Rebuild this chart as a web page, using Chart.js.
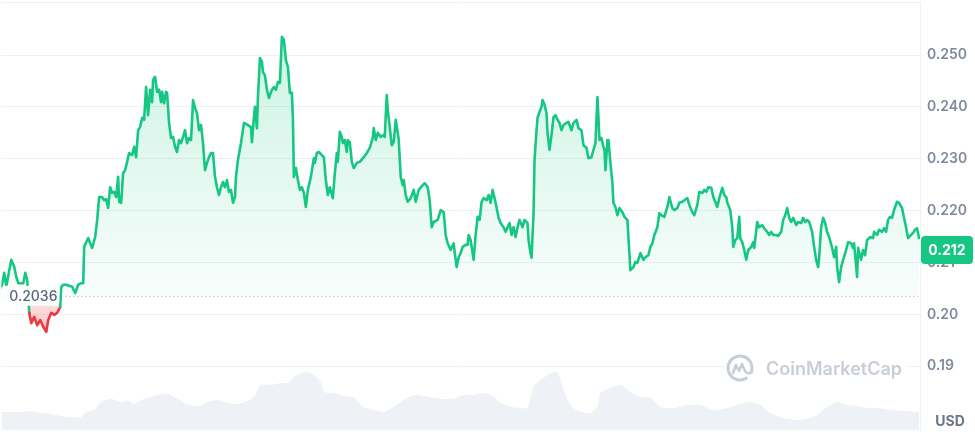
<!DOCTYPE html>
<html><head><meta charset="utf-8">
<script src="https://cdn.jsdelivr.net/npm/chart.js@4"></script>
<style>html,body{margin:0;padding:0;background:#fff;overflow:hidden}</style>
</head><body>
<canvas id="c" width="975" height="434"></canvas>
<script>
// ---- DATA ----
// minutes since start of the 7-day window
const timeMin = [
0,33,55,88,110,143,165,187,220,242,
264,286,308,330,363,396,429,462,495,517,
550,583,616,649,660,682,715,748,781,814,
847,880,902,913,935,957,979,1001,1034,1056,
1078,1111,1133,1155,1177,1199,1221,1243,1265,1287,
1298,1320,1342,1364,1386,1408,1441,1463,1485,1507,
1529,1551,1573,1595,1617,1639,1661,1672,1694,1716,
1738,1760,1771,1793,1815,1826,1848,1870,1892,1914,
1936,1958,1980,2002,2024,2046,2068,2090,2112,2134,
2156,2178,2200,2222,2244,2266,2288,2310,2332,2354,
2376,2398,2420,2442,2464,2486,2508,2530,2552,2574,
2585,2607,2640,2673,2717,2750,2761,2783,2794,2816,
2827,2849,2871,2882,2904,2926,2948,2959,2981,3003,
3025,3047,3069,3091,3113,3135,3157,3179,3201,3212,
3223,3245,3267,3289,3311,3333,3355,3377,3410,3443,
3454,3476,3498,3531,3553,3575,3597,3619,3652,3674,
3696,3707,3729,3751,3762,3784,3806,3817,3839,3861,
3883,3916,3949,3993,4026,4059,4092,4103,4125,4147,
4180,4213,4224,4246,4257,4279,4301,4323,4345,4367,
4378,4400,4422,4433,4455,4477,4510,4543,4565,4598,
4642,4664,4697,4719,4741,4763,4807,4840,4873,4895,
4917,4950,4983,4994,5016,5038,5060,5082,5115,5137,
5148,5170,5203,5225,5247,5269,5291,5313,5346,5368,
5390,5412,5445,5478,5500,5533,5555,5577,5599,5621,
5643,5665,5687,5709,5742,5764,5797,5808,5830,5841,
5863,5874,5896,5907,5929,5951,5962,5984,6006,6017,
6039,6061,6083,6105,6127,6149,6171,6193,6226,6248,
6281,6303,6336,6358,6391,6413,6446,6468,6501,6523,
6545,6567,6578,6589,6611,6633,6644,6655,6677,6688,
6710,6732,6743,6765,6787,6809,6842,6864,6897,6908,
6930,6963,6985,7007,7040,7073,7095,7128,7150,7172,
7194,7227,7249,7271,7304,7337,7359,7392,7414,7447,
7469,7502,7524,7557,7579,7612,7634,7667,7689,7722,
7744,7766,7788,7821,7843,7865,7887,7909,7942,7964,
7986,7997,8030,8052,8063,8085,8107,8129,8140,8162,
8184,8206,8228,8261,8283,8294,8327,8349,8382,8404,
8437,8459,8481,8503,8536,8558,8591,8613,8635,8657,
8679,8701,8723,8756,8778,8811,8833,8855,8877,8899,
8932,8954,8976,8998,9009,9031,9053,9075,9097,9119,
9152,9174,9196,9207,9229,9251,9273,9306,9328,9361,
9383,9394,9427,9438,9471,9493,9515,9537,9570,9603,
9614,9647,9669,9702,9724,9746,9768,9790,9812,9834,
9867,9889,9922,9944,9966,9988,10021,10043,10065,10087,
10109
];
// price in USD
const price = [
0.2050,0.2080,0.2053,0.2085,0.2105,0.2091,0.2072,0.2060,0.2060,0.2060,
0.2080,0.2066,0.2003,0.1983,0.1995,0.1979,0.1989,0.1976,0.1966,0.1989,
0.2003,0.1999,0.2003,0.2014,0.2053,0.2057,0.2057,0.2055,0.2053,0.2041,
0.2057,0.2060,0.2060,0.2130,0.2139,0.2147,0.2137,0.2128,0.2149,0.2182,
0.2226,0.2226,0.2220,0.2222,0.2205,0.2245,0.2234,0.2236,0.2226,0.2265,
0.2217,0.2215,0.2272,0.2278,0.2294,0.2311,0.2307,0.2323,0.2303,0.2355,
0.2361,0.2379,0.2375,0.2438,0.2384,0.2433,0.2409,0.2452,0.2458,0.2429,
0.2433,0.2409,0.2429,0.2407,0.2429,0.2427,0.2369,0.2340,0.2342,0.2323,
0.2313,0.2336,0.2330,0.2342,0.2355,0.2330,0.2340,0.2336,0.2413,0.2398,
0.2388,0.2355,0.2365,0.2330,0.2278,0.2292,0.2303,0.2311,0.2311,0.2265,
0.2245,0.2230,0.2245,0.2255,0.2245,0.2259,0.2236,0.2240,0.2215,0.2226,
0.2265,0.2298,0.2330,0.2369,0.2365,0.2361,0.2332,0.2380,0.2400,0.2359,
0.2419,0.2494,0.2487,0.2467,0.2461,0.2433,0.2417,0.2423,0.2433,0.2438,
0.2433,0.2448,0.2446,0.2535,0.2529,0.2490,0.2477,0.2427,0.2427,0.2380,
0.2265,0.2282,0.2259,0.2240,0.2245,0.2234,0.2207,0.2240,0.2265,0.2301,
0.2292,0.2311,0.2313,0.2307,0.2303,0.2259,0.2230,0.2245,0.2224,0.2272,
0.2311,0.2294,0.2352,0.2342,0.2330,0.2336,0.2313,0.2336,0.2332,0.2294,
0.2282,0.2292,0.2294,0.2303,0.2311,0.2321,0.2340,0.2359,0.2336,0.2350,
0.2342,0.2346,0.2342,0.2423,0.2394,0.2361,0.2326,0.2332,0.2375,0.2350,
0.2336,0.2265,0.2249,0.2259,0.2230,0.2217,0.2224,0.2240,0.2217,0.2240,
0.2249,0.2253,0.2245,0.2220,0.2168,0.2178,0.2182,0.2201,0.2197,0.2153,
0.2137,0.2124,0.2137,0.2120,0.2091,0.2110,0.2118,0.2130,0.2134,0.2134,
0.2153,0.2143,0.2105,0.2153,0.2188,0.2182,0.2217,0.2224,0.2220,0.2230,
0.2215,0.2240,0.2215,0.2186,0.2176,0.2168,0.2159,0.2168,0.2176,0.2153,
0.2168,0.2149,0.2168,0.2182,0.2168,0.2182,0.2176,0.2143,0.2118,0.2109,
0.2195,0.2298,0.2355,0.2379,0.2390,0.2400,0.2413,0.2404,0.2388,0.2350,
0.2317,0.2346,0.2380,0.2384,0.2375,0.2369,0.2355,0.2365,0.2369,0.2371,
0.2355,0.2369,0.2375,0.2359,0.2355,0.2326,0.2321,0.2301,0.2303,0.2317,
0.2330,0.2419,0.2380,0.2336,0.2340,0.2323,0.2317,0.2278,0.2336,0.2336,
0.2292,0.2253,0.2215,0.2207,0.2191,0.2205,0.2197,0.2188,0.2182,0.2149,
0.2085,0.2091,0.2101,0.2099,0.2118,0.2105,0.2110,0.2114,0.2130,0.2137,
0.2153,0.2168,0.2195,0.2191,0.2188,0.2207,0.2226,0.2205,0.2201,0.2205,
0.2215,0.2217,0.2220,0.2224,0.2211,0.2197,0.2191,0.2211,0.2236,0.2234,
0.2240,0.2236,0.2245,0.2244,0.2226,0.2217,0.2207,0.2224,0.2244,0.2230,
0.2226,0.2215,0.2201,0.2168,0.2130,0.2143,0.2147,0.2188,0.2147,0.2139,
0.2124,0.2105,0.2124,0.2130,0.2139,0.2128,0.2178,0.2168,0.2172,0.2166,
0.2159,0.2153,0.2159,0.2153,0.2153,0.2151,0.2159,0.2182,0.2191,0.2205,
0.2186,0.2178,0.2186,0.2172,0.2178,0.2176,0.2186,0.2178,0.2182,0.2178,
0.2159,0.2130,0.2105,0.2091,0.2109,0.2168,0.2186,0.2176,0.2159,0.2149,
0.2128,0.2110,0.2130,0.2091,0.2062,0.2091,0.2105,0.2124,0.2139,0.2137,
0.2128,0.2137,0.2072,0.2128,0.2105,0.2124,0.2114,0.2143,0.2149,0.2147,
0.2159,0.2153,0.2163,0.2159,0.2166,0.2159,0.2182,0.2188,0.2186,0.2201,
0.2217,0.2215,0.2205,0.2186,0.2168,0.2147,0.2153,0.2157,0.2163,0.2166,
0.2147
];
// trading volume (relative units, millions)
const volTimeMin = [
0,110,220,297,440,550,660,737,880,935,
1023,1100,1210,1320,1397,1463,1573,1683,1837,1947,
2057,2200,2277,2387,2497,2607,2717,2783,2860,2970,
3080,3157,3223,3300,3377,3443,3520,3553,3663,3773,
3883,3993,4103,4213,4323,4433,4543,4653,4763,4873,
4983,5093,5203,5313,5423,5500,5610,5720,5797,5863,
5940,6017,6083,6127,6160,6237,6303,6380,6490,6567,
6600,6710,6820,6930,7040,7150,7260,7403,7557,7700,
7843,7997,8140,8250,8360,8470,8613,8767,8877,8987,
9097,9207,9317,9427,9537,9647,9790,9977,10109
];
const volume = [
18,18,18,19,17,16,14,13,13,18,
20,28,31,28,29,26,31,34,36,31,
25,24,28,30,27,26,29,33,45,45,
47,47,53,57,58,55,48,38,37,34,
32,23,20,18,23,30,35,34,32,31,
31,35,35,37,33,27,23,22,22,43,
50,55,58,58,50,30,22,18,17,23,
37,42,45,38,33,32,23,22,25,25,
20,22,26,28,25,17,12,10,11,15,
23,28,25,24,22,22,20,19,18
];
const tickValues = [0.19, 0.20, 0.21, 0.22, 0.23, 0.24, 0.25];
const tickLabels = ['0.19', '0.20', '0.21', '0.220', '0.230', '0.240', '0.250'];
const openPrice = 0.2036;
const openLabel = '0.2036';
const currentPrice = 0.212;
const currentLabel = '0.212';
const currencyLabel = 'USD';
const watermarkText = 'CoinMarketCap';

// ---- STYLE ----
const GREEN = '#16c784', RED = '#ea3943';
const GRID = '#eff1f4';
const TICK = '#808a9d';

const overlay = {
  id: 'overlay',
  beforeDatasetsDraw(chart) {
    const {ctx, chartArea: a, scales: {y}} = chart;
    ctx.save();
    ctx.strokeStyle = GRID; ctx.lineWidth = 1;
    ctx.beginPath(); ctx.moveTo(a.left, a.top + 0.5); ctx.lineTo(a.right, a.top + 0.5); ctx.stroke();
    const by = Math.round(y.getPixelForValue(openPrice)) + 0.5;
    ctx.strokeStyle = '#a3aab8'; ctx.setLineDash([1, 3]);
    ctx.beginPath(); ctx.moveTo(a.left, by); ctx.lineTo(a.right - 2, by); ctx.stroke();
    ctx.restore();
  },
  afterDraw(chart) {
    const {ctx, chartArea: a, scales: {y}} = chart;
    ctx.save();
    const by = y.getPixelForValue(openPrice);
    ctx.fillStyle = 'rgba(255,255,255,0.92)';
    ctx.beginPath(); ctx.roundRect(a.left, by - 10, 58, 20, 4); ctx.fill();
    ctx.font = '500 14px Inter';
    ctx.fillStyle = '#58667e'; ctx.textAlign = 'left'; ctx.textBaseline = 'middle';
    ctx.fillText(openLabel, a.left + 8, by + 1);
    const cy = y.getPixelForValue(currentPrice) - 2;
    ctx.fillStyle = GREEN;
    ctx.beginPath(); ctx.roundRect(a.right + 1, cy - 14, 52, 28, 4); ctx.fill();
    ctx.fillStyle = '#ffffff'; ctx.font = '700 14px Inter'; ctx.textAlign = 'center';
    ctx.fillText(currentLabel, a.right + 27, cy + 1);
    ctx.fillStyle = '#6b7588'; ctx.font = '700 14px Inter';
    ctx.fillText(currencyLabel, a.right + 30, a.bottom - 8);
    const wx = a.right - 196, wy = a.bottom - 62;
    ctx.fillStyle = '#ffffff';
    ctx.fillRect(wx, wy - 15, 184, 30);
    const col = '#c8ced8';
    ctx.strokeStyle = col; ctx.lineWidth = 3; ctx.lineCap = 'round'; ctx.lineJoin = 'round';
    const lx = wx + 16, ly = wy;
    ctx.beginPath(); ctx.arc(lx, ly, 12, 0.32 * Math.PI, 2.08 * Math.PI); ctx.stroke();
    ctx.lineWidth = 2.6;
    ctx.beginPath();
    ctx.moveTo(lx - 7, ly + 5); ctx.lineTo(lx - 4, ly - 3); ctx.lineTo(lx - 1, ly + 3);
    ctx.lineTo(lx + 2, ly - 4); ctx.lineTo(lx + 5, ly + 3); ctx.quadraticCurveTo(lx + 8, ly + 7, lx + 12, ly + 4);
    ctx.stroke();
    ctx.fillStyle = col; ctx.font = '600 18px Inter'; ctx.textAlign = 'left'; ctx.textBaseline = 'alphabetic';
    ctx.fillText(watermarkText, wx + 42, wy + 7);
    ctx.restore();
  }
};

const canvas = document.getElementById('c');
const ctx2d = canvas.getContext('2d');
const priceData = timeMin.map((t, i) => ({x: t, y: price[i]}));
const volData = volTimeMin.map((t, i) => ({x: t, y: volume[i]}));

const chart = new Chart(canvas, {
  type: 'line',
  data: {
    datasets: [
      {
        label: 'Price', data: priceData, yAxisID: 'y', order: 1,
        borderColor: GREEN, borderWidth: 2.6, pointRadius: 0, tension: 0,
        borderJoinStyle: 'round', borderCapStyle: 'round',
        fill: {target: {value: openPrice}, above: 'rgba(22,199,132,0.12)', below: 'rgba(234,57,67,0.18)'},
        segment: {
          borderColor: c => ((c.p0.parsed.y < openPrice && c.p1.parsed.y < openPrice) ? RED : GREEN)
        }
      },
      {
        label: 'Volume', data: volData, yAxisID: 'yVol', order: 2,
        borderWidth: 0, pointRadius: 0, tension: 0.2,
        fill: 'origin', backgroundColor: '#eef1f5'
      }
    ]
  },
  options: {
    responsive: false, animation: false, devicePixelRatio: 1,
    layout: {padding: {top: 2, bottom: 4, left: 0, right: 0}},
    plugins: {legend: {display: false}, tooltip: {enabled: false}},
    scales: {
      x: {type: 'linear', min: 0, max: 10120, display: false},
      y: {
        position: 'right', min: 0.17769, max: 0.26022,
        afterBuildTicks: s => { s.ticks = tickValues.map(v => ({value: v})); },
        afterFit: s => { s.width = 55; s.paddingTop = 0; s.paddingBottom = 0; },
        grid: {color: GRID, drawTicks: false, lineWidth: 1},
        border: {display: true, color: GRID},
        ticks: {
          padding: 7, color: TICK, font: {family: 'Inter', size: 14, weight: '600'},
          callback: v => {
            const i = tickValues.findIndex(t => Math.abs(t - v) < 1e-9);
            return i >= 0 ? tickLabels[i] : '';
          }
        }
      },
      yVol: {display: false, min: 0, max: 428}
    }
  },
  plugins: [overlay]
});

const ys = chart.scales.y, ca = chart.chartArea;
const basePx = ys.getPixelForValue(openPrice);
const gUp = ctx2d.createLinearGradient(0, ca.top, 0, basePx);
gUp.addColorStop(0, 'rgba(22,199,132,0.24)');
gUp.addColorStop(1, 'rgba(22,199,132,0.03)');
const gDn = ctx2d.createLinearGradient(0, basePx, 0, ys.getPixelForValue(0.1966));
gDn.addColorStop(0, 'rgba(234,57,67,0.12)');
gDn.addColorStop(1, 'rgba(234,57,67,0.30)');
chart.data.datasets[0].fill = {target: {value: openPrice}, above: gUp, below: gDn};
chart.update('none');
</script>
</body></html>
